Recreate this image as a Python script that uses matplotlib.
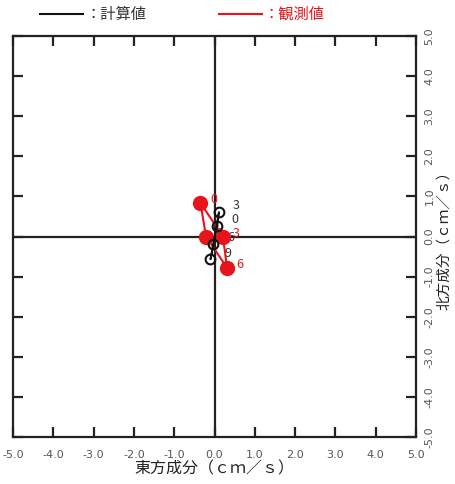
import numpy as np
import matplotlib.pyplot as plt
from matplotlib.lines import Line2D

plt.rcParams['font.family'] = ['Noto Sans CJK JP', 'DejaVu Sans']

# velocity components (cm/s) at each hour label
hours = ['0', '3', '6', '9']
calc_east = [0.07, 0.11, -0.03, -0.10]
calc_north = [0.26, 0.61, -0.18, -0.57]
obs_east = [-0.35, 0.21, 0.31, -0.21]
obs_north = [0.84, 0.00, -0.78, 0.00]

ticks = [-5.0, -4.0, -3.0, -2.0, -1.0, 0.0, 1.0, 2.0, 3.0, 4.0, 5.0]
tick_labels = ['%.1f' % t for t in ticks]

fig = plt.figure(figsize=(4.56, 4.84), dpi=100)
ax = fig.add_axes([13 / 456, 1 - 437 / 484, 403 / 456, 401 / 484])
ax.set_xlim(-5, 5)
ax.set_ylim(-5, 5)

for s in ax.spines.values():
    s.set_linewidth(1.6)
    s.set_color('#222222')

ax.axhline(0, color='#222222', lw=1.6, zorder=1)
ax.axvline(0, color='#222222', lw=1.6, zorder=1)

ax.set_xticks(ticks)
ax.set_xticklabels(tick_labels, family='DejaVu Sans')
ax.set_yticks(ticks)
ax.set_yticklabels(tick_labels, rotation=90, va='center', family='DejaVu Sans')
ax.tick_params(axis='both', direction='in', length=7, width=1.6, color='#222222',
               labelsize=8, labelcolor='#555555', top=True, right=True)
ax.tick_params(axis='y', left=True, labelleft=False, labelright=True, pad=6)
ax.tick_params(axis='x', pad=9)

ax.set_xlabel('東方成分（ｃｍ／ｓ）', fontsize=11.5, labelpad=1, color='#222222')
ax.yaxis.set_label_position('right')
ax.set_ylabel('北方成分（ｃｍ／ｓ）', fontsize=10.5, rotation=90, labelpad=2, color='#222222')

# closed loops: 0 -> 3 -> 6 -> 9 -> 0
ax.plot(obs_east + obs_east[:1], obs_north + obs_north[:1], color='#e8141c', lw=1.5, zorder=2)
ax.plot(obs_east, obs_north, 'o', color='#e8141c', ms=10, zorder=3)
ax.plot(calc_east + calc_east[:1], calc_north + calc_north[:1], color='#111111', lw=1.3, zorder=4)
ax.plot(calc_east, calc_north, 'o', mfc='none', mec='#111111', mew=1.5, ms=7, zorder=5)

for h, x, y in zip(hours, obs_east, obs_north):
    ax.annotate(h, (x, y), xytext=(7, 0), textcoords='offset points',
                color='#e8141c', fontsize=9, zorder=2)
for h, x, y in zip(hours, calc_east, calc_north):
    ax.annotate(h, (x, y), xytext=(10, 2), textcoords='offset points',
                color='#333333', fontsize=9, zorder=2)

# legend along the top edge
fig.add_artist(Line2D([40 / 456, 83 / 456], [1 - 14 / 484] * 2, color='#111111', lw=1.5))
fig.text(86 / 456, 1 - 14 / 484, '：計算値', fontsize=11, va='center', color='#333333')
fig.add_artist(Line2D([219 / 456, 262 / 456], [1 - 14 / 484] * 2, color='#e8141c', lw=1.5))
fig.text(264 / 456, 1 - 14 / 484, '：観測値', fontsize=11, va='center', color='#e8141c')

fig.savefig('out.png', dpi=100)
